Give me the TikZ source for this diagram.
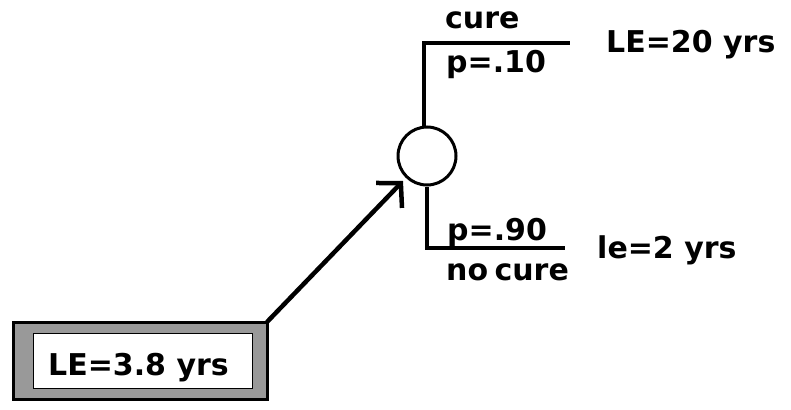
\documentclass[tikz,border=0pt]{standalone}
\usepackage{fontspec}
\setmainfont{DejaVu Sans}
\usetikzlibrary{arrows.meta}
\begin{document}
\begin{tikzpicture}[x=1pt,y=-1pt,
  lbl/.style={anchor=base west,inner sep=0pt,font=\bfseries\fontsize{30}{32}\selectfont},
  branch/.style={line width=3.5pt},
  chance/.style={circle,draw,line width=3pt,minimum size=58pt,inner sep=0pt}]
\useasboundingbox (0,0) rectangle (791,409);
% chance node
\node[chance] (c) at (427,156) {};
% branches
\coordinate (t1) at (424,43);
\coordinate (t2) at (570,43);
\coordinate (b1) at (427,248);
\coordinate (b2) at (565,248);
\draw[branch] (c.north -| t1) -- (t1) -- (t2);
\draw[branch] (c.south -| b1) -- (b1) -- (b2);
% labels
\node[lbl] (cure) at (445,29) {cure};
\node[lbl] (p10) at (446,73) {p=.10};
\node[lbl] (le20) at (606,53) {LE=20 yrs};
\node[lbl] (p90) at (447,240) {p=.90};
\node[lbl] (nocure) at (446,280) {no\hspace{-4pt} cure};
\node[lbl] (le2) at (597,258) {le=2 yrs};
% result box
\fill[black!40] (13,322) rectangle (267,399);
\draw[line width=3pt] (13,322) rectangle (267,399);
\node[draw,line width=1pt,fill=white,minimum width=219pt,minimum height=55pt,inner sep=0pt] (box) at (142.5,360.5) {};
\node[lbl] (le38) at (48,375) {LE=3.8 yrs};
% arrow
\coordinate (boxc) at (267,322);
\draw[line width=4.5pt,-{Straight Barb[length=17pt,width=36pt]}] (boxc) -- (403,181);
\end{tikzpicture}
\end{document}
